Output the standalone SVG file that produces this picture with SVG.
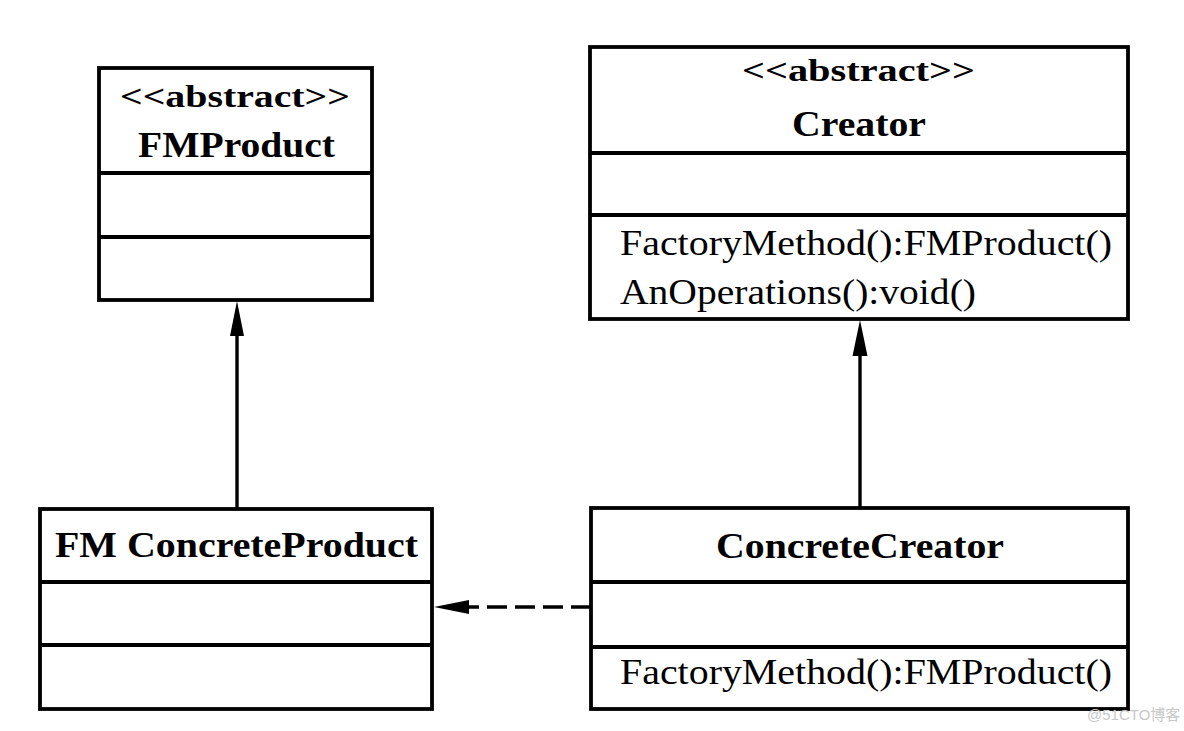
<svg xmlns="http://www.w3.org/2000/svg" width="1184" height="731" viewBox="0 0 1184 731">
  <style>
    .box { fill: #ffffff; stroke: #000000; stroke-width: 3.8; }
    .div { stroke: #000000; stroke-width: 3.8; }
    .t { font-family: "Liberation Serif", "Times New Roman", serif; fill: #000000; }
    .b { font-weight: bold; font-size: 36px; }
    .s { font-weight: bold; font-size: 31px; }
    .m { font-size: 36px; }
    .conn { stroke: #000000; stroke-width: 3.4; fill: none; }
    .dash { stroke-dasharray: 20 8; }
    .head { fill: #000000; }
    .wm { font-family: "Liberation Sans", "Noto Sans CJK SC", sans-serif; font-size: 15px; fill: #c8c8c8; }
  </style>

  <rect width="1184" height="731" fill="#ffffff"/>

  <g id="connectors">
    <line class="conn" x1="237" y1="509" x2="237" y2="320"/>
    <path class="head" d="M237,301 L244,336 L230,336 Z"/>
    <line class="conn" x1="860" y1="508" x2="860" y2="340"/>
    <path class="head" d="M860,320 L867.5,356 L852.5,356 Z"/>
    <line class="conn dash" x1="591" y1="607" x2="467" y2="607"/>
    <path class="head" d="M434,607 L469,600 L469,614 Z"/>
  </g>

  <g id="FMProduct">
    <rect class="box" x="99" y="68" width="273" height="232"/>
    <line class="div" x1="99" y1="173" x2="372" y2="173"/>
    <line class="div" x1="99" y1="237" x2="372" y2="237"/>
    <text class="t s" x="120" y="107" textLength="230" lengthAdjust="spacingAndGlyphs">&lt;&lt;abstract&gt;&gt;</text>
    <text class="t b" x="138" y="157" textLength="197" lengthAdjust="spacingAndGlyphs">FMProduct</text>
  </g>

  <g id="Creator">
    <rect class="box" x="590" y="47" width="538" height="272"/>
    <line class="div" x1="590" y1="153" x2="1128" y2="153"/>
    <line class="div" x1="590" y1="215" x2="1128" y2="215"/>
    <text class="t s" x="742" y="81" textLength="233" lengthAdjust="spacingAndGlyphs">&lt;&lt;abstract&gt;&gt;</text>
    <text class="t b" x="792" y="136" textLength="134" lengthAdjust="spacingAndGlyphs">Creator</text>
    <text class="t m" x="620" y="255" textLength="492" lengthAdjust="spacingAndGlyphs">FactoryMethod():FMProduct()</text>
    <text class="t m" x="620" y="304" textLength="356" lengthAdjust="spacingAndGlyphs">AnOperations():void()</text>
  </g>

  <g id="FMConcreteProduct">
    <rect class="box" x="40" y="509" width="392" height="200"/>
    <line class="div" x1="40" y1="582" x2="432" y2="582"/>
    <line class="div" x1="40" y1="645" x2="432" y2="645"/>
    <text class="t b" x="55" y="557" textLength="363" lengthAdjust="spacingAndGlyphs">FM ConcreteProduct</text>
  </g>

  <g id="ConcreteCreator">
    <rect class="box" x="591" y="508" width="537" height="201"/>
    <line class="div" x1="591" y1="582" x2="1128" y2="582"/>
    <line class="div" x1="591" y1="647" x2="1128" y2="647"/>
    <text class="t b" x="716" y="558" textLength="288" lengthAdjust="spacingAndGlyphs">ConcreteCreator</text>
    <text class="t m" x="620" y="684" textLength="492" lengthAdjust="spacingAndGlyphs">FactoryMethod():FMProduct()</text>
  </g>

  <text class="wm" x="1087" y="720">@51CTO博客</text>
</svg>
